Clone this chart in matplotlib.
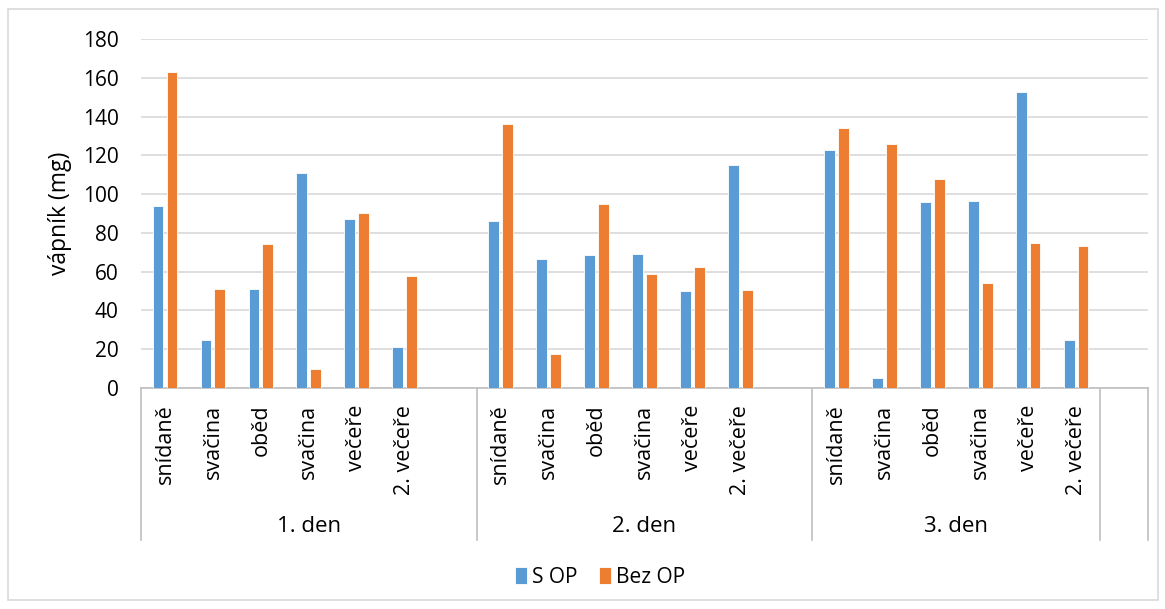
import numpy as np
import matplotlib.pyplot as plt
from matplotlib.patches import Rectangle
import matplotlib.transforms as mtransforms

plt.rcParams['font.family'] = ['Open Sans', 'DejaVu Sans']

# data: calcium (mg) per meal, three days
days = ["1. den", "2. den", "3. den"]
meals = ["snídaně", "svačina", "oběd", "svačina", "večeře", "2. večeře"]
s_op = [94, 25, 51, 111, 87, 21,
        86, 66.5, 68.5, 69, 50, 115,
        122.5, 5, 96, 96.5, 152.5, 24.5]
bez_op = [163, 51, 74.5, 10, 90, 58,
          136, 17.5, 95, 59, 62.5, 50.5,
          134, 126, 108, 54, 75, 73]

blue = "#5B9BD5"
orange = "#ED7D31"
grid_col = "#D9D9D9"
axis_col = "#BFBFBF"

# each day takes 7 slots (6 meals + one empty), last day is followed by one blank slot
slots_per_day = 7
pos = np.array([d * slots_per_day + m for d in range(len(days)) for m in range(len(meals))])
n_slots = 21

fig = plt.figure(figsize=(11.65, 6.09), dpi=100)
ax = fig.add_axes([0.121, 0.3629, 0.8644, 0.5731])

bw = 0.225
off = 0.145
ax.bar(pos - off, s_op, width=bw, color=blue, edgecolor="white", linewidth=0.6, label="S OP", zorder=3)
ax.bar(pos + off, bez_op, width=bw, color=orange, edgecolor="white", linewidth=0.6, label="Bez OP", zorder=3)

ax.set_xlim(-0.5, n_slots - 0.5)
ax.set_ylim(0, 180)
ax.set_yticks(np.arange(0, 181, 20))
ax.yaxis.grid(True, color=grid_col, linewidth=1.2, zorder=0)
ax.set_axisbelow(True)
for s in ["top", "right", "left"]:
    ax.spines[s].set_visible(False)
ax.spines["bottom"].set_color(axis_col)
ax.spines["bottom"].set_linewidth(1.2)
ax.tick_params(axis="y", length=0, pad=16, labelsize=15, labelcolor="#000000")
ax.tick_params(axis="x", length=0, pad=12, labelsize=15.5)

ax.set_xticks(pos)
ax.set_xticklabels(meals * len(days), rotation=90, va="top", ha="center")
ax.set_ylabel("vápník (mg)", fontsize=16.5, labelpad=8)

# second level of category axis: separators and day labels
trans = mtransforms.blended_transform_factory(ax.transData, ax.transAxes)
sep_bottom = -0.435
bounds = [-0.5, 6.5, 13.5, 19.5, 20.5]
for x in bounds:
    ax.plot([x, x], [0, sep_bottom], transform=trans, color=axis_col,
            linewidth=1.2, clip_on=False, zorder=1)
for d, name in enumerate(days):
    if d < 2:
        cx = d * slots_per_day + 3
    else:
        cx = (13.5 + 19.5) / 2
    ax.text(cx, -0.398, name, transform=trans, ha="center", va="center", fontsize=16)

fig.legend(loc="center", bbox_to_anchor=(0.515, 0.052), ncol=2, frameon=False,
           fontsize=15, handlelength=0.6, handleheight=0.9, handletextpad=0.25,
           columnspacing=1.0)

# chart area border
fig.patches.append(Rectangle((8 / 1165, 9 / 609), 1150 / 1165, 591 / 609,
                             transform=fig.transFigure, fill=False,
                             edgecolor="#D9D9D9", linewidth=1.2))

fig.savefig("out.png", dpi=100)
